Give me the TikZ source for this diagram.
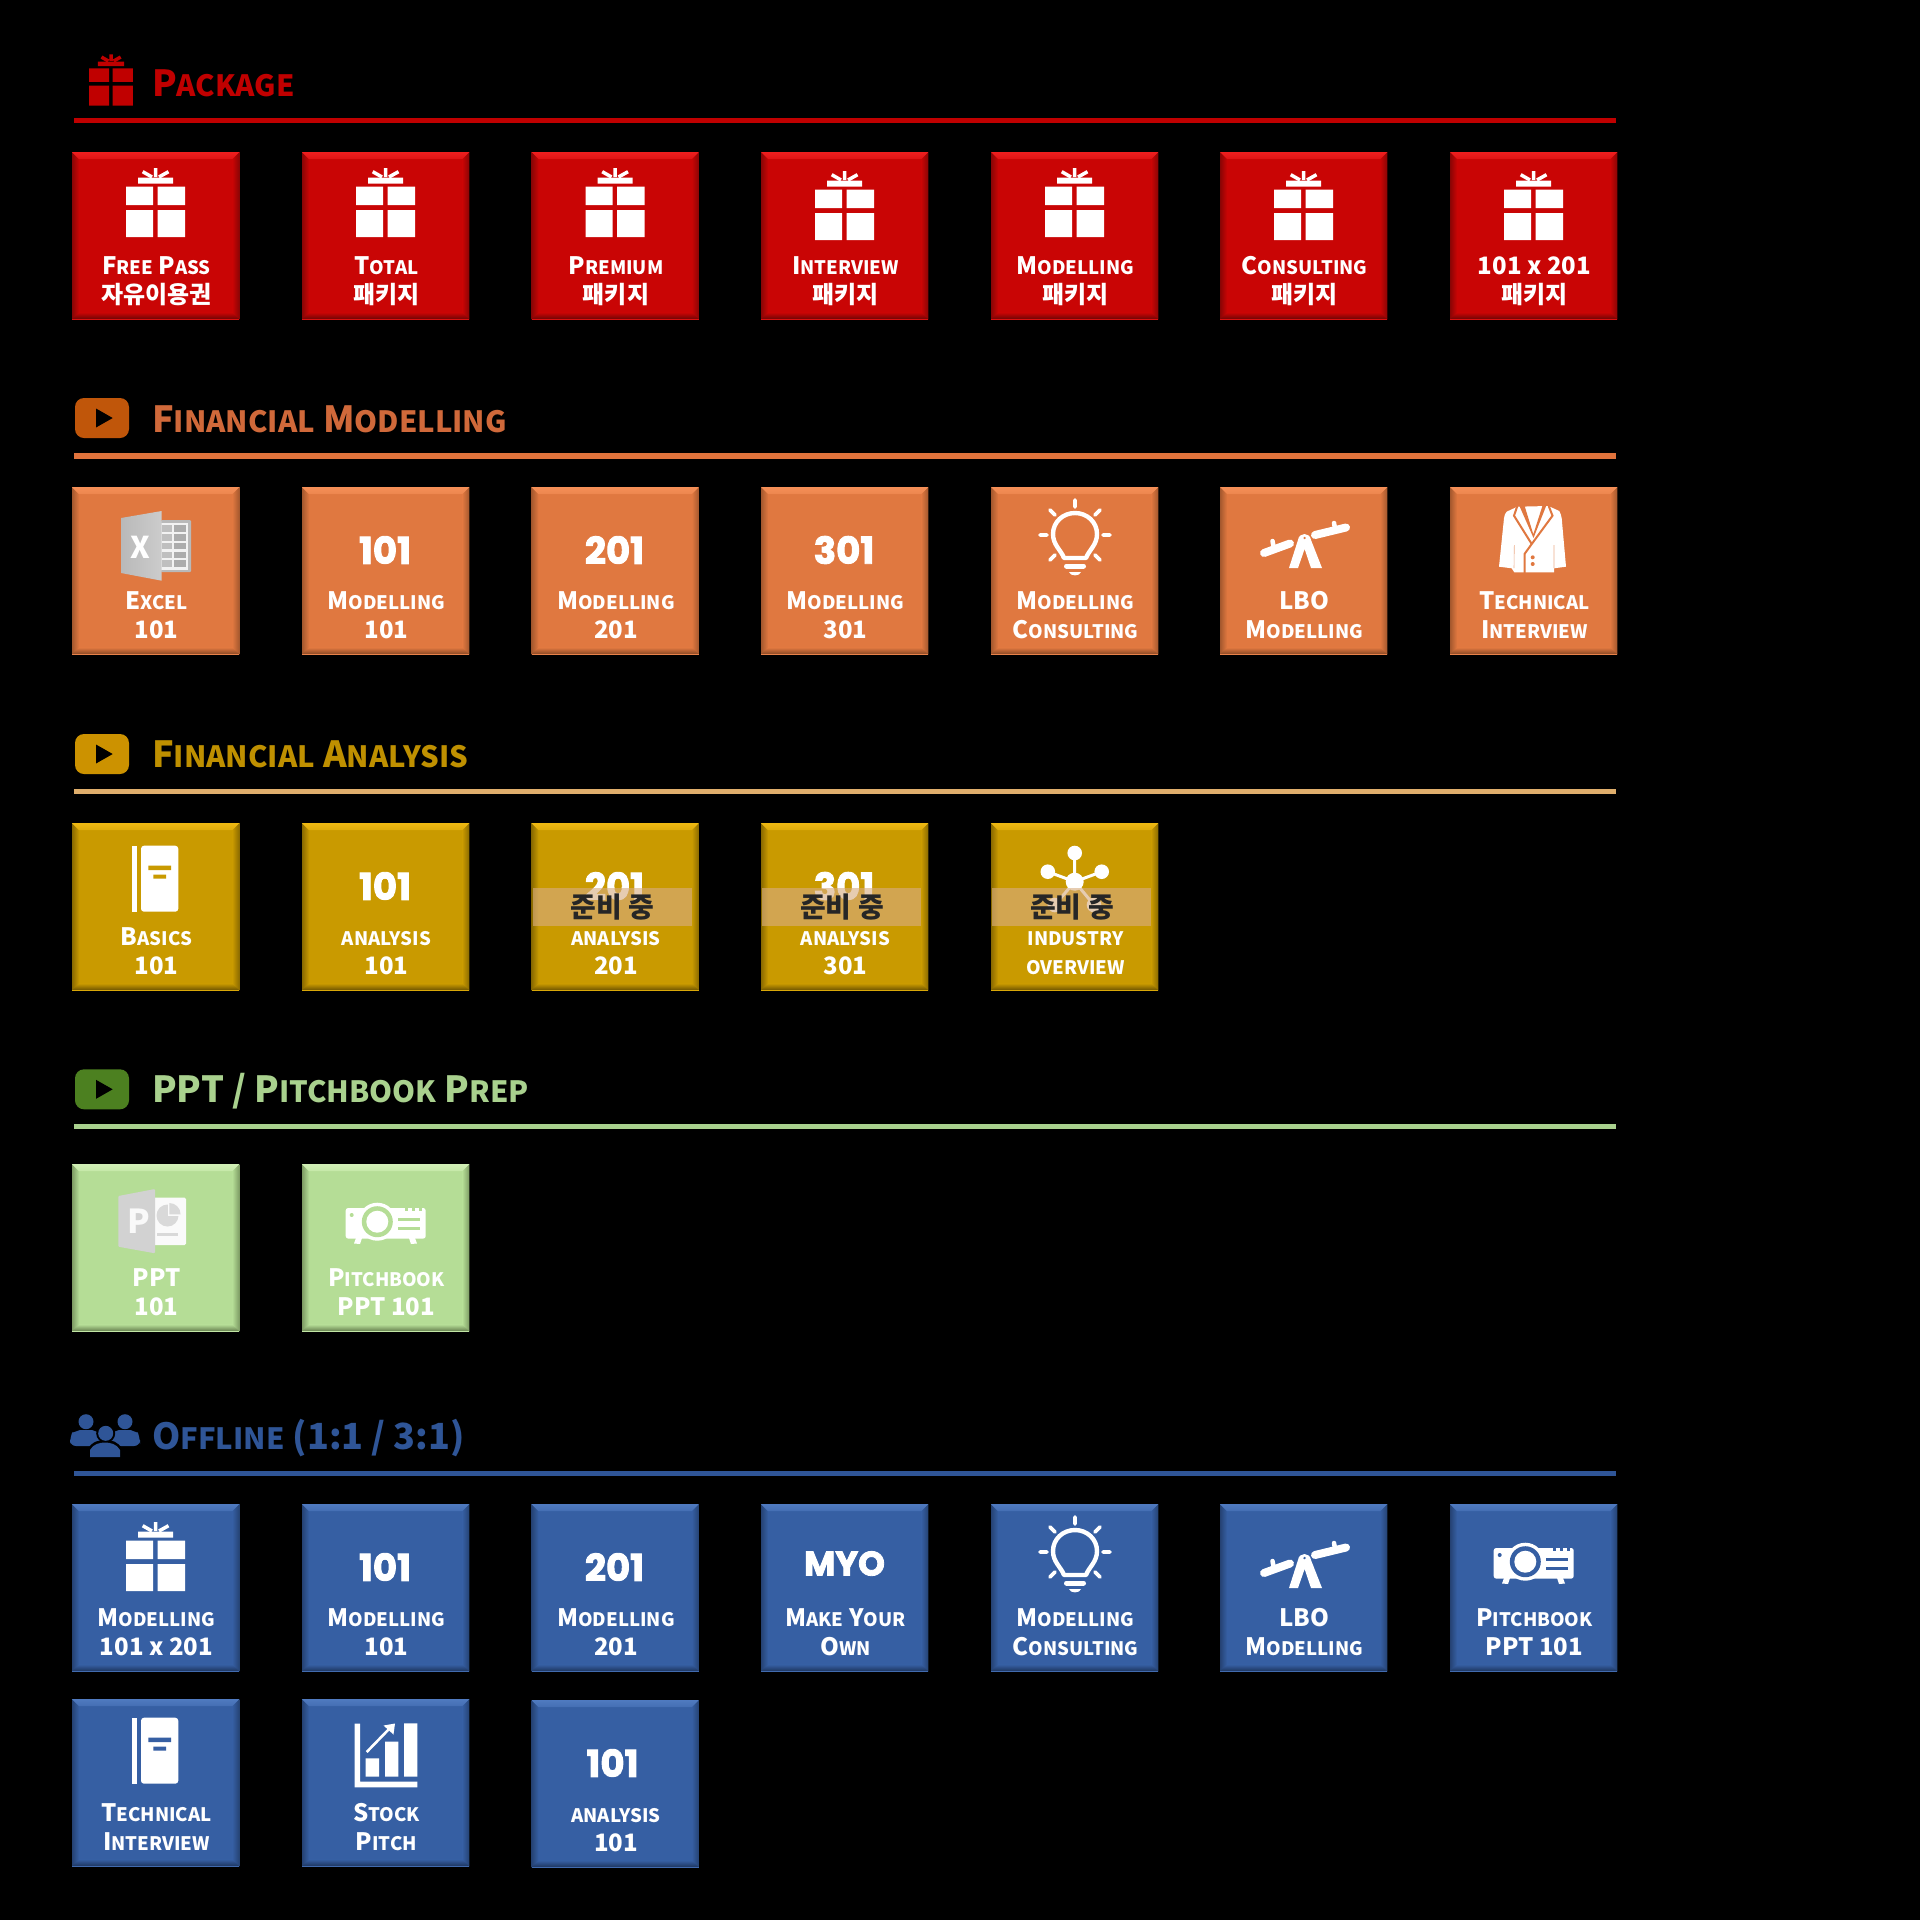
\documentclass[tikz,border=0pt]{standalone}
\usepackage{fontspec}
\setmainfont{Noto Sans CJK KR}
\newfontfamily\numfont{Poppins}[BoldFeatures={FakeBold=2.5}]
\definecolor{redB}{HTML}{C90505}\definecolor{redL}{HTML}{FF2A2A}\definecolor{redD}{HTML}{6E0505}
\definecolor{oraB}{HTML}{E07840}\definecolor{oraL}{HTML}{FF9A62}\definecolor{oraD}{HTML}{8A4A26}
\definecolor{yelB}{HTML}{C99A00}\definecolor{yelL}{HTML}{FFC61A}\definecolor{yelD}{HTML}{6F5500}
\definecolor{greB}{HTML}{B5DD96}\definecolor{greL}{HTML}{DDF7C4}\definecolor{greD}{HTML}{66804F}
\definecolor{bluB}{HTML}{365FA3}\definecolor{bluL}{HTML}{5A86CC}\definecolor{bluD}{HTML}{1E365F}
\definecolor{redT}{HTML}{C00000}\definecolor{oraT}{HTML}{D0693A}\definecolor{yelT}{HTML}{BF9000}
\definecolor{greT}{HTML}{A9D18E}\definecolor{bluT}{HTML}{2F5597}
\definecolor{oraI}{HTML}{C0560A}\definecolor{yelI}{HTML}{CC9200}\definecolor{greI}{HTML}{4C8020}
\definecolor{yelR}{HTML}{DFAE6C}\definecolor{oraR}{HTML}{E0733C}\definecolor{wipB}{HTML}{D8AD82}
\newcommand\tsm{}
\newcommand\sC[2]{#1{\tsm #2}}
\tikzset{
  tlabel/.style={anchor=base,inner sep=0pt,text=white,font=\bfseries\fontsize{24}{24}\selectfont},
  hdr/.style={anchor=base west,inner sep=0pt,font=\bfseries\fontsize{36}{36}\selectfont},
  bigno/.style={anchor=center,inner sep=0pt,text=white,font=\numfont\bfseries\fontsize{37}{37}\selectfont},
  rulebar/.style={line width=5.5pt},
}
% name, x, y, scheme, line1, line2, icon
\newcommand\tile[7]{%
\begin{scope}[shift={(#2,#3)}]
 \colorlet{tb}{#4B}\colorlet{tl}{#4L}\colorlet{td}{#4D}
 \coordinate (#1) at (0,0);
 \fill[tb] (0,0) rectangle (167.3,167.5);
 \shade[left color=td!70!tb,right color=tb] (0,0)--(7,7)--(7,160.5)--(0,167.5)--cycle;
 \shade[left color=tb,right color=td!70!tb] (167.3,0)--(160.3,7)--(160.3,160.5)--(167.3,167.5)--cycle;
 \shade[top color=tl!70!tb,bottom color=tb!60!tl] (0,0)--(167.3,0)--(160.3,7)--(7,7)--cycle;
 \shade[top color=tb,bottom color=td] (7,160.5)--(160.3,160.5)--(167.3,167)--(0,167)--cycle;
 \fill[tb!70!tl] (0,167)rectangle(167.3,167.8);
 #7
 \node[tlabel] (#1-a) at (84.5,122) {\def\tsm{\fontsize{18.6}{19}\selectfont}#5};
 \node[tlabel] (#1-b) at (84.5,151) {\def\tsm{\fontsize{18.6}{19}\selectfont}#6};
\end{scope}}
\newcommand\header[5]{% name, text colour, rule colour, rule y, text
 \coordinate (#1-l) at (74,#4);\coordinate (#1-r) at (1616,#4);
 \draw[rulebar,#3] (#1-l) -- (#1-r);
 \node[hdr,text=#2] (#1) at (152,#4-24) {\def\tsm{\fontsize{29.3}{30}\selectfont}#5};
}
\newcommand\giftpic[1]{%
 \fill[#1] (54,34.7) rectangle (81,53) (85.7,34.7) rectangle (113,53)
   (54,58) rectangle (81,85) (85.7,58) rectangle (113,85) (66,25.7) rectangle (101,31.7);
 \draw[#1,line width=3.5pt] (83.6,16) -- (83.6,25) (70.7,19.7) -- (80,25) (96.5,19.7) -- (87,25);
}
\newcommand\gift[1][0]{\begin{scope}[yshift=-#1pt]\giftpic{white}\end{scope}}
\newcommand\bulb{%
 \begin{scope}[shift={(84,48)}]
  \draw[white,line width=4.4pt,line join=round] (-11,23) .. controls (-14,15) and (-22,10) .. (-22,-1)
    .. controls (-22,-13) and (-12,-22) .. (0,-22) .. controls (12,-22) and (22,-13) .. (22,-1)
    .. controls (22,10) and (14,15) .. (11,23) -- cycle;
  \draw[white,line width=3.8pt,line cap=round] (0,-35)--(0,-28) (-35,0)--(-28,0) (35,0)--(28,0)
    (-25,-25)--(-20,-20) (25,-25)--(20,-20) (-25,25)--(-20,20) (25,25)--(20,20);
  \draw[white,line width=5pt,line cap=round] (-8.5,31)--(8.5,31);
  \fill[white] (-6,37) -- (6,37) .. controls (5,41.5) and (-5,41.5) .. (-6,37) -- cycle;
 \end{scope}}
\newcommand\seesaw[1][0]{%
 \begin{scope}[yshift=-#1pt]
  \draw[white,line width=8pt,line cap=round] (44,66)--(70,56.5) (95,48)--(126,40.5);
  \draw[white,line width=4.5pt,line cap=round] (52.5,54)--(54,62) (114,36)--(115.5,44);
  \fill[white,even odd rule] (69,81)--(78,53) .. controls (79,45) and (90,45) .. (91,53)--(102,81)--(91,81)--(84.6,62)--(78,81)--cycle
     (84.6,51) circle (1.6);
 \end{scope}}
\newcommand\jacket{%
 \fill[white] (67.3,19.7) -- (56.7,24.7) .. controls (55,26) and (54.3,29) .. (54,31.3) -- (49,79.7) -- (61.7,81.3) -- (64.3,85.3) -- (104,85.3)
   -- (104,81.3) -- (116,79.7) -- (111.7,31.3) .. controls (111.3,29) and (110.5,26) .. (109.3,24) -- (98.3,19) -- cycle;
 \draw[oraB,line width=2pt,line join=miter] (67.3,19) -- (64,28.7) -- (81.7,57) -- (74.5,67) -- (74.5,86)
    (98.7,19) -- (102.5,28.7) -- (81.7,57);
 \fill[oraB] (69,18) -- (74.3,18) -- (83.3,47.3) -- (92.7,18) -- (96.5,18) -- (83.5,51) -- cycle;
 \draw[oraB!60!white,line width=.6pt] (64.3,58)--(64,81) (104,58)--(104,81);
 \fill[oraB] (82.7,70.3) circle (2) (82.7,77) circle (2);
}
\newcommand\xlpic{%
 \fill[gray!55,rounded corners=1pt] (89,33) rectangle (119,85);
 \fill[white!90!gray] (89,36) rectangle (116,83);
 \foreach \yy in {38,47,55.7,64.7,73}{\fill[gray!50] (90,\yy) rectangle (100,\yy+6.5);\fill[gray!65] (102,\yy) rectangle (114,\yy+6.5);}
 \shade[left color=gray!55,right color=gray!40] (49,31)--(89.7,24)--(89.7,93.7)--(49,86)--cycle;
 \node[inner sep=0pt,text=white,font=\bfseries\fontsize{30}{30}\selectfont] (xlx) at (68,60) {X};
}
\newcommand\pppic{%
 \fill[white!96!gray,rounded corners=1.5pt] (80,33.7) rectangle (114,81);
 \fill[gray!30] (85,68.6) rectangle (105.7,72);
 \fill[gray!30] (95.5,51.5) circle (11);
 \fill[white!96!gray] (95.5,38) rectangle (108,51.5);
 \fill[gray!30] (97.3,50.3) -- (97.3,39) .. controls (103.5,39) and (108.6,44) .. (108.6,50.3) -- cycle;
 \fill[gray!35,rounded corners=1pt] (46.3,32)--(83,25)--(83,89.3)--(46.3,82.7)--cycle;
 \node[inner sep=0pt,text=white!95!gray,font=\bfseries\fontsize{33}{33}\selectfont] (ppp) at (67,57.5) {P};
}
\newcommand\projector[1][0]{%
 \begin{scope}[yshift=-#1pt]
 \fill[white,rounded corners=2.5pt] (43.7,44) -- (123.7,44) -- (123.7,74.6) -- (43.7,74.6) -- cycle;
 \fill[white] (54,74) -- (60,74) -- (58,80) -- (52,79.5) -- cycle (107,74)--(113,74)--(115,79.5)--(109,80)--cycle;
 \foreach \xx in {103,110,117}{\fill[tb] (\xx,43.5) rectangle (\xx+2.5,46.5);}
 \fill[white] (75.3,57.7) circle (19);
 \fill[tb] (75.3,57.7) circle (15.5);
 \fill[white] (75.3,57.7) circle (11);
 \fill[tb] (49.7,51) circle (2);
 \draw[tb,line width=3pt] (96.3,55)--(118,55) (96.3,64.3)--(118,64.3);
 \end{scope}}
\newcommand\bookic[1][0]{%
 \begin{scope}[yshift=-#1pt]
 \fill[white] (60.3,22.7) rectangle (65.3,88.7);
 \fill[white,rounded corners=3pt] (69,22.7) -- (106.3,22.7) -- (106.3,88.7) -- (69,88.7) -- cycle;
 \fill[tb] (76.3,42.5) rectangle (99,47) (81.3,51.7) rectangle (94,55.5);
 \end{scope}}
\newcommand\chartic{%
 \fill[white] (52.7,24.5) rectangle (58,88.3) (52.7,82.7) rectangle (115.3,88.3);
 \fill[white] (63.7,59.3) rectangle (77,77.7) (83,42.7) rectangle (96.3,77.7) (102,24.3) rectangle (115.3,77.7);
 \draw[white,line width=2.6pt] (64.7,53) -- (88,29);
 \fill[white] (93,24.5) -- (91.5,35.5) -- (81.5,26.5) -- cycle;
}
\newcommand\netic{%
 \draw[white,line width=3pt] (83.7,58.7) -- (83.7,30) (83.7,58.7) -- (56.8,48.7) (83.7,58.7) -- (110.7,48.7) (83.7,58.7)--(63.8,82) (83.7,58.7)--(103,82);
 \fill[white] (83.7,30) circle (7.3) (56.8,48.7) circle (7.3) (110.7,48.7) circle (7.3) (83.7,58.7) circle (9) (63.8,82) circle (7.3) (103,82) circle (7.3);
}
\newcommand\prep[1]{%
 \fill[wipB,fill opacity=.62] (1,65) rectangle (160,103);
 \node[inner sep=0pt,text=black!85,font=\bfseries\fontsize{28}{28}\selectfont] (#1-wip) at (81,84) {준비 중};
}
\newcommand\numic[2][83]{\node[bigno] at (#1,63) {#2};}
\newcommand\play[3]{%
 \coordinate (#1-c) at (102,#3);
 \fill[#2,rounded corners=9pt] (75,#3-20) rectangle (129,#3+20);
 \fill[black] (96,#3-9.5) -- (112.7,#3) -- (96,#3+9.5) -- cycle;
}
\begin{document}
\begin{tikzpicture}[x=1pt,y=-1pt]
\useasboundingbox (0,0) rectangle (1920,1920);
\fill[black] (0,0) rectangle (1920,1920);
% ---------- headers
\begin{scope}[shift={(48.8,42.4)},scale=.745]\giftpic{redT}\end{scope}
\header{hA}{redT}{redT}{120.7}{\sC{P}{ACKAGE}}
\play{pB}{oraI}{418}
\header{hB}{oraT}{oraR}{456}{\sC{F}{INANCIAL} \sC{M}{ODELLING}}
\play{pC}{yelI}{754}
\header{hC}{yelT}{yelR}{791.5}{\sC{F}{INANCIAL} \sC{A}{NALYSIS}}
\play{pD}{greI}{1089.3}
\header{hD}{greT}{greT}{1126.7}{PPT / \sC{P}{ITCHBOOK} \sC{P}{REP}}
\header{hE}{bluT}{bluT}{1473.7}{\sC{O}{FFLINE} (1:1 / 3:1)}
% people icon
\fill[bluT] (86,1421.7) circle (7.5) (125,1421.7) circle (7.5);
\fill[bluT,rounded corners=6pt] (70,1446) -- (70,1438) .. controls (72,1433) and (80,1430) .. (86,1430) .. controls (92,1430) and (100,1433) .. (103,1438) -- (96,1446) -- cycle;
\fill[bluT,rounded corners=6pt] (140,1446) -- (140,1438) .. controls (138,1433) and (130,1430) .. (125,1430) .. controls (119,1430) and (111,1433) .. (108,1438) -- (115,1446) -- cycle;
\fill[black] (105.7,1433.3) circle (9.5);
\fill[black] (88,1457) -- (88,1449) .. controls (92,1441) and (100,1440) .. (105,1440) .. controls (111,1440) and (118,1441) .. (122,1449) -- (122,1457) -- cycle;
\fill[bluT] (105.7,1433.3) circle (7.5);
\fill[bluT] (90,1457) -- (90,1450) .. controls (93,1444) and (100,1442.5) .. (105,1442.5) .. controls (110,1442.5) and (117,1444) .. (120,1450) -- (120,1457) -- cycle;
% ---------- row 1
\tile{a1}{72}{152}{red}{\sC{F}{REE} \sC{P}{ASS}}{자유이용권}{\giftpic{white}}
\tile{a2}{302}{152}{red}{\sC{T}{OTAL}}{패키지}{\giftpic{white}}
\tile{a3}{531.5}{152}{red}{\sC{P}{REMIUM}}{패키지}{\giftpic{white}}
\tile{a4}{761}{152}{red}{\sC{I}{NTERVIEW}}{패키지}{\gift[3]}
\tile{a5}{991}{152}{red}{\sC{M}{ODELLING}}{패키지}{\giftpic{white}}
\tile{a6}{1220}{152}{red}{\sC{C}{ONSULTING}}{패키지}{\gift[3]}
\tile{a7}{1450}{152}{red}{101 x 201}{패키지}{\gift[3]}
% ---------- row 2
\tile{b1}{72}{487}{ora}{\sC{E}{XCEL}}{101}{\xlpic}
\tile{b2}{302}{487}{ora}{\sC{M}{ODELLING}}{101}{\numic{101}}
\tile{b3}{531.5}{487}{ora}{\sC{M}{ODELLING}}{201}{\numic{201}}
\tile{b4}{761}{487}{ora}{\sC{M}{ODELLING}}{301}{\numic{301}}
\tile{b5}{991}{487}{ora}{\sC{M}{ODELLING}}{\sC{C}{ONSULTING}}{\bulb}
\tile{b6}{1220}{487}{ora}{LBO}{\sC{M}{ODELLING}}{\seesaw}
\tile{b7}{1450}{487}{ora}{\sC{T}{ECHNICAL}}{\sC{I}{NTERVIEW}}{\jacket}
% ---------- row 3
\tile{c1}{72}{823}{yel}{\sC{B}{ASICS}}{101}{\bookic}
\tile{c2}{302}{823}{yel}{\tsm ANALYSIS}{101}{\numic{101}}
\tile{c3}{531.5}{823}{yel}{\tsm ANALYSIS}{201}{\numic{201}\prep{c3}}
\tile{c4}{761}{823}{yel}{\tsm ANALYSIS}{301}{\numic{301}\prep{c4}}
\tile{c5}{991}{823}{yel}{\tsm INDUSTRY}{\tsm OVERVIEW}{\netic\prep{c5}}
% ---------- row 4
\tile{d1}{72}{1164}{gre}{PPT}{101}{\pppic}
\tile{d2}{302}{1164}{gre}{\sC{P}{ITCHBOOK}}{PPT 101}{\projector}
% ---------- row 5
\tile{e1}{72}{1504}{blu}{\sC{M}{ODELLING}}{101 x 201}{\gift[2]}
\tile{e2}{302}{1504}{blu}{\sC{M}{ODELLING}}{101}{\numic{101}}
\tile{e3}{531.5}{1504}{blu}{\sC{M}{ODELLING}}{201}{\numic{201}}
\tile{e4}{761}{1504}{blu}{\sC{M}{AKE} \sC{Y}{OUR}}{\sC{O}{WN}}{\node[bigno,font=\numfont\bfseries\fontsize{34}{34}\selectfont] at (83.5,59.5) {MYO};}
\tile{e5}{991}{1504}{blu}{\sC{M}{ODELLING}}{\sC{C}{ONSULTING}}{\bulb}
\tile{e6}{1220}{1504}{blu}{LBO}{\sC{M}{ODELLING}}{\seesaw[3]}
\tile{e7}{1450}{1504}{blu}{\sC{P}{ITCHBOOK}}{PPT 101}{\projector}
% ---------- row 6
\tile{f1}{72}{1699}{blu}{\sC{T}{ECHNICAL}}{\sC{I}{NTERVIEW}}{\bookic[-4]}
\tile{f2}{302}{1699}{blu}{\sC{S}{TOCK}}{\sC{P}{ITCH}}{\chartic}
\tile{f3}{531.5}{1700}{blu}{\tsm ANALYSIS}{101}{\numic[81]{101}}
\end{tikzpicture}
\end{document}
